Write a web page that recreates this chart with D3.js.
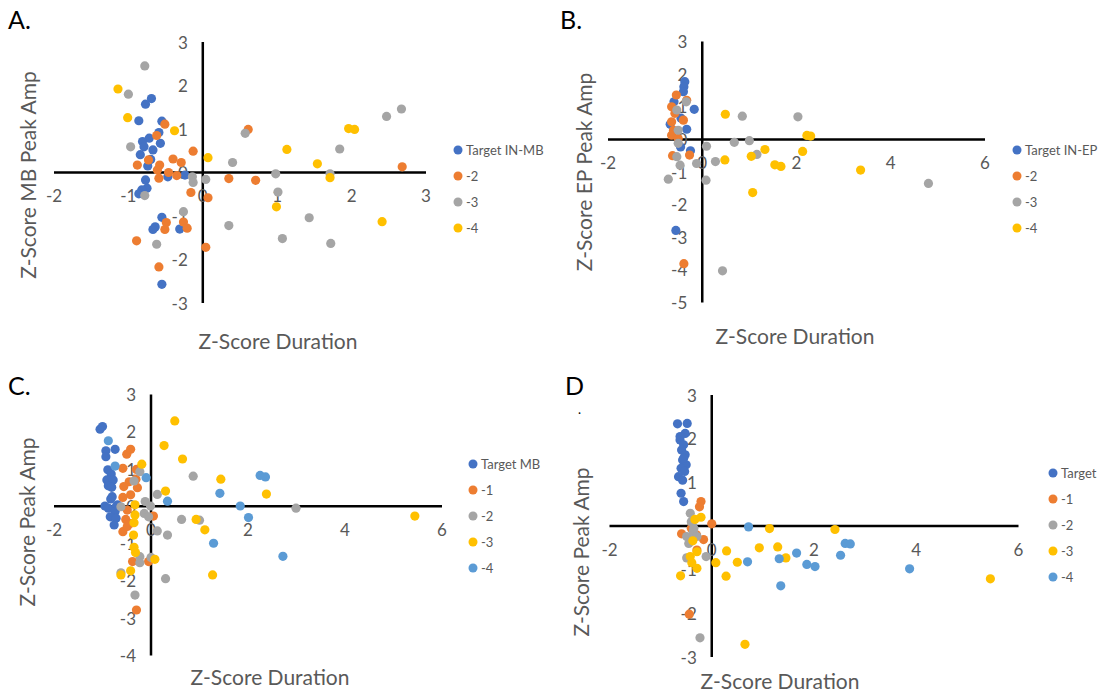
<!DOCTYPE html>
<html>
<head>
<meta charset="utf-8">
<script src="https://cdn.jsdelivr.net/npm/d3@7"></script>
<style>
  body { margin: 0; background: #fff; }
  text { font-family: Lato, "Open Sans", sans-serif; }
</style>
</head>
<body>
<script>
// Series colours (Excel defaults)
const colors = ['#4472C4', '#ED7D31', '#A5A5A5', '#FFC000', '#5B9BD5'];

// Panel A: MB peak amp vs duration
const aNames = ['Target IN-MB', '-2', '-3', '-4'];
const aTarget = [[-0.69,1.70],[-0.77,1.57],[-0.86,1.19],[-0.55,1.18],[-0.59,0.92],[-0.72,0.79],[-0.81,0.71],[-0.57,0.67],[-0.79,0.59],[-0.67,0.52],[-0.84,0.41],[-0.70,0.30],[-0.74,0.15],[-0.47,-0.10],[-0.24,-0.06],[-0.77,-0.17],[-0.75,-0.36],[-0.82,-0.40],[-0.86,-0.49],[-0.55,-1.03],[-0.64,-1.25],[-0.67,-1.31],[-0.31,-1.30],[-0.55,-2.57]];
const aMinus2 = [[-0.51,1.11],[-0.62,0.85],[-0.13,0.49],[-0.73,0.29],[-0.40,0.31],[-0.29,0.23],[-0.88,0.17],[-0.58,0.17],[-0.61,0.06],[-0.46,0.00],[-0.35,-0.07],[-0.59,-0.13],[-0.16,-0.46],[0.07,-0.58],[0.35,-0.14],[0.71,-0.18],[0.61,0.99],[-0.49,-1.15],[-0.51,-1.31],[-0.26,-1.14],[-0.21,-1.28],[-0.89,-1.57],[0.04,-1.72],[-0.59,-2.17],[2.68,0.13]];
const aMinus3 = [[-0.78,2.45],[-1.00,1.80],[-0.97,0.59],[-0.78,-0.53],[-0.14,-0.10],[-0.13,-0.23],[0.04,-0.16],[0.40,0.23],[0.57,0.90],[-0.26,-0.90],[0.35,-1.22],[-0.62,-1.65],[0.98,-0.03],[1.01,-0.45],[1.07,-1.52],[1.43,-1.04],[1.84,0.54],[1.71,-0.03],[1.72,-1.63],[2.47,1.29],[2.67,1.46]];
const aMinus4 = [[-1.14,1.92],[-1.01,1.26],[-0.38,0.96],[0.07,0.34],[1.13,0.53],[0.99,-0.79],[1.54,0.20],[1.71,-0.12],[1.96,1.01],[2.04,0.99],[2.41,-1.13]];

// Panel B: EP peak amp vs duration
const bNames = ['Target IN-EP', '-2', '-3', '-4'];
const bTarget = [[-0.37,1.77],[-0.39,1.61],[-0.40,1.46],[-0.17,0.92],[-0.68,0.46],[-0.33,0.31],[-0.46,-0.23],[-0.25,-0.35],[-0.56,-2.79],[-0.60,1.15],[-0.45,0.65]];
const bMinus2 = [[-0.55,1.36],[-0.33,1.20],[-0.65,1.00],[-0.58,0.80],[-0.40,0.59],[-0.65,0.54],[-0.61,0.28],[-0.65,0.13],[-0.51,0.03],[-0.63,-0.50],[-0.27,-0.48],[-0.39,-3.81]];
const bMinus3 = [[-0.34,1.15],[-0.54,0.90],[-0.51,0.28],[-0.51,-0.12],[-0.54,-0.53],[-0.47,-0.79],[-0.72,-1.22],[0.09,-0.21],[-0.12,-0.74],[0.28,-0.68],[0.08,-1.25],[0.43,-4.03],[0.85,0.71],[2.03,0.69],[0.68,-0.09],[1.00,-0.04],[1.16,-0.46],[4.80,-1.35]];
const bMinus4 = [[0.49,0.77],[2.22,0.12],[2.30,0.10],[1.33,-0.31],[2.13,-0.37],[0.48,-0.63],[1.04,-0.52],[1.54,-0.78],[1.67,-0.83],[1.07,-1.63],[3.36,-0.94]];

// Panel C
const cNames = ['Target MB', '-1', '-2', '-3', '-4'];
const cTarget = [[-1.05,2.07],[-1.00,2.14],[-0.93,1.49],[-0.74,1.53],[-0.93,1.33],[-0.89,0.98],[-0.82,0.87],[-0.91,0.71],[-0.78,0.71],[-0.88,0.55],[-0.81,0.51],[-0.80,0.26],[-0.83,0.20],[-0.95,0.01],[-0.88,-0.05],[-0.72,-0.01],[-0.74,-0.14],[-0.84,-0.28],[-0.72,-0.32],[-0.76,-0.50],[-0.69,0.04]];
const cMinus1 = [[-0.50,1.40],[-0.42,1.53],[-0.58,1.02],[-0.30,0.99],[-0.31,0.73],[-0.45,0.66],[-0.56,0.53],[-0.28,0.50],[-0.42,0.31],[-0.58,0.24],[-0.49,-0.10],[-0.52,-0.35],[-0.43,-0.46],[-0.58,-0.68],[-0.49,-0.54],[0.05,-0.26],[-0.38,-1.48],[-0.05,-1.48],[-0.30,-2.78]];
const cMinus2 = [[-0.23,0.93],[-0.35,0.68],[-0.62,-0.01],[-0.12,0.13],[-0.01,0.01],[-0.14,-0.19],[-0.05,-0.28],[0.13,0.32],[0.13,-0.66],[0.34,-0.77],[0.63,-0.35],[0.87,0.81],[1.00,-0.37],[-0.23,-1.35],[-0.23,-1.51],[0.00,-1.37],[-0.62,-1.78],[0.30,-1.94],[-0.33,-2.38],[2.99,-0.05]];
const cMinus3 = [[0.49,2.29],[0.27,1.63],[0.65,1.27],[-0.19,1.13],[1.44,0.73],[0.30,0.41],[2.38,0.33],[-0.33,0.04],[-0.33,-0.23],[-0.35,-0.44],[-0.36,-0.77],[0.93,-0.35],[1.11,-0.63],[-0.35,-1.10],[-0.32,-1.24],[0.08,-1.42],[-0.42,-1.73],[-0.62,-1.84],[1.27,-1.84],[5.44,-0.26]];
const cMinus4 = [[-0.88,1.76],[-0.74,1.08],[-0.10,0.77],[0.34,0.14],[1.42,0.35],[1.29,-0.99],[1.84,0.01],[2.01,-0.30],[2.25,0.83],[2.36,0.79],[2.72,-1.34]];

// Panel D
const dNames = ['Target', '-1', '-2', '-3', '-4'];
const dTarget = [[-0.67,2.34],[-0.48,2.35],[-0.52,2.12],[-0.62,1.97],[-0.55,1.86],[-0.59,1.74],[-0.52,1.63],[-0.57,1.51],[-0.50,1.40],[-0.60,1.32],[-0.53,1.25],[-0.65,1.13],[-0.57,1.05],[-0.60,0.75],[-0.55,0.56],[-0.62,2.05],[-0.55,1.55]];
const dMinus1 = [[-0.21,0.56],[-0.24,0.44],[0.00,0.05],[-0.59,-0.18],[-0.16,-0.31],[-0.29,-0.55],[-0.44,-2.02],[-0.40,-0.05],[-0.30,-0.20]];
const dMinus2 = [[-0.42,0.29],[-0.49,-0.24],[-0.36,-0.13],[-0.29,-0.24],[-0.45,-0.40],[-0.39,-0.32],[-0.49,-0.73],[-0.11,-0.70],[-0.23,-2.56],[-0.40,0.10],[-0.35,-0.05]];
const dMinus3 = [[-0.21,0.20],[-0.33,0.15],[-0.37,-0.34],[-0.29,-0.59],[-0.42,-0.70],[-0.39,-0.84],[-0.29,-0.97],[-0.61,-1.14],[0.29,-0.57],[0.08,-0.84],[0.50,-0.83],[0.28,-1.15],[0.65,-2.71],[0.93,-0.50],[1.13,-0.06],[2.41,-0.08],[1.29,-0.48],[1.45,-0.73],[5.45,-1.21]];
const dMinus4 = [[0.72,-0.02],[0.70,-0.82],[2.61,-0.40],[2.71,-0.41],[2.52,-0.67],[1.32,-0.75],[1.66,-0.62],[1.86,-0.88],[2.02,-0.93],[1.35,-1.37],[3.87,-0.98]];

// Tick values
const xTicksA = [-2, -1, 0, 1, 2, 3];
const xTicksWide = [-2, 0, 2, 4, 6];

const svg = d3.select('body').append('svg')
    .attr('width', 1102)
    .attr('height', 692);

/**
 * Draw one scatter panel with axes crossing at zero
 */
function drawPanel(p) {
    const g = svg.append('g');
    const x = d3.scaleLinear().domain(p.xDomain).range(p.xRange);
    const y = d3.scaleLinear().domain(p.yDomain).range(p.yRange);

    // Axis lines through the origin
    g.append('line')
        .attr('x1', x(p.xDomain[0])).attr('x2', x(p.xDomain[1]))
        .attr('y1', y(0)).attr('y2', y(0))
        .attr('stroke', '#000').attr('stroke-width', 2.5);
    g.append('line')
        .attr('x1', x(0)).attr('x2', x(0))
        .attr('y1', y(p.yDomain[0])).attr('y2', y(p.yDomain[1]))
        .attr('stroke', '#000').attr('stroke-width', 2.5);

    // Tick labels
    g.selectAll('.xt').data(p.xTicks).join('text')
        .attr('x', d => x(d)).attr('y', y(0) + 23)
        .attr('text-anchor', 'middle').attr('dominant-baseline', 'central')
        .attr('font-size', 17).attr('fill', '#595959')
        .text(d => d);
    g.selectAll('.yt').data(d3.range(p.yDomain[0], p.yDomain[1] + 1)).join('text')
        .attr('x', x(0) - 15).attr('y', d => y(d))
        .attr('text-anchor', 'end').attr('dominant-baseline', 'central')
        .attr('font-size', 17).attr('fill', '#595959')
        .text(d => d);

    // Points, later series on top
    p.series.forEach((s, i) => {
        g.append('g').selectAll('circle').data(s).join('circle')
            .attr('cx', d => x(d[0])).attr('cy', d => y(d[1]))
            .attr('r', 4.6).attr('fill', colors[i]);
    });

    // Axis titles
    g.append('text')
        .attr('transform', `translate(${p.yTitlePos[0]},${p.yTitlePos[1]}) rotate(-90)`)
        .attr('text-anchor', 'middle').attr('dominant-baseline', 'central')
        .attr('font-size', 21).attr('fill', '#595959')
        .text(p.yTitle);
    g.append('text')
        .attr('x', p.xTitlePos[0]).attr('y', p.xTitlePos[1])
        .attr('text-anchor', 'middle').attr('dominant-baseline', 'central')
        .attr('font-size', 21).attr('fill', '#595959')
        .text('Z-Score Duration');

    // Legend
    const lg = g.append('g').selectAll('g').data(p.names).join('g')
        .attr('transform', (d, i) => `translate(${p.legend[0]},${p.legend[1] + i * 26})`);
    lg.append('circle').attr('r', 4.5).attr('fill', (d, i) => colors[i]);
    lg.append('text').attr('x', 8).attr('dominant-baseline', 'central')
        .attr('font-size', 13).attr('fill', '#595959').text(d => d);

    // Panel letter
    svg.append('text')
        .attr('x', p.label[0]).attr('y', p.label[1])
        .attr('font-family', '"Liberation Serif", "DejaVu Serif", serif')
        .attr('font-size', 25).attr('fill', '#000')
        .text(p.letter);
}

drawPanel({
    letter: 'A.', label: [8, 29],
    xDomain: [-2, 3], xRange: [54, 426], yDomain: [-3, 3], yRange: [303, 42],
    xTicks: xTicksA, series: [aTarget, aMinus2, aMinus3, aMinus4], names: aNames,
    yTitle: 'Z-Score MB Peak Amp', yTitlePos: [27, 175], xTitlePos: [278, 340],
    legend: [458, 150]
});
drawPanel({
    letter: 'B.', label: [560, 29],
    xDomain: [-2, 6], xRange: [608, 985], yDomain: [-5, 3], yRange: [302.5, 41.5],
    xTicks: xTicksWide, series: [bTarget, bMinus2, bMinus3, bMinus4], names: bNames,
    yTitle: 'Z-Score EP Peak Amp', yTitlePos: [583, 172], xTitlePos: [795, 335],
    legend: [1017, 150]
});
drawPanel({
    letter: 'C.', label: [8, 395],
    xDomain: [-2, 6], xRange: [54, 442], yDomain: [-4, 3], yRange: [655.5, 394.5],
    xTicks: xTicksWide, series: [cTarget, cMinus1, cMinus2, cMinus3, cMinus4], names: cNames,
    yTitle: 'Z-Score Peak Amp', yTitlePos: [26, 522], xTitlePos: [270, 676],
    legend: [473, 464]
});
drawPanel({
    letter: 'D', label: [565, 395],
    xDomain: [-2, 6], xRange: [609.5, 1018.5], yDomain: [-3, 3], yRange: [657, 395],
    xTicks: xTicksWide, series: [dTarget, dMinus1, dMinus2, dMinus3, dMinus4], names: dNames,
    yTitle: 'Z-Score Peak Amp', yTitlePos: [580, 552], xTitlePos: [780, 680],
    legend: [1053, 473]
});

// Stray dot under the panel D letter
svg.append('text')
    .attr('x', 578).attr('y', 414)
    .attr('font-size', 13).attr('fill', '#000')
    .text('.');
</script>
</body>
</html>
